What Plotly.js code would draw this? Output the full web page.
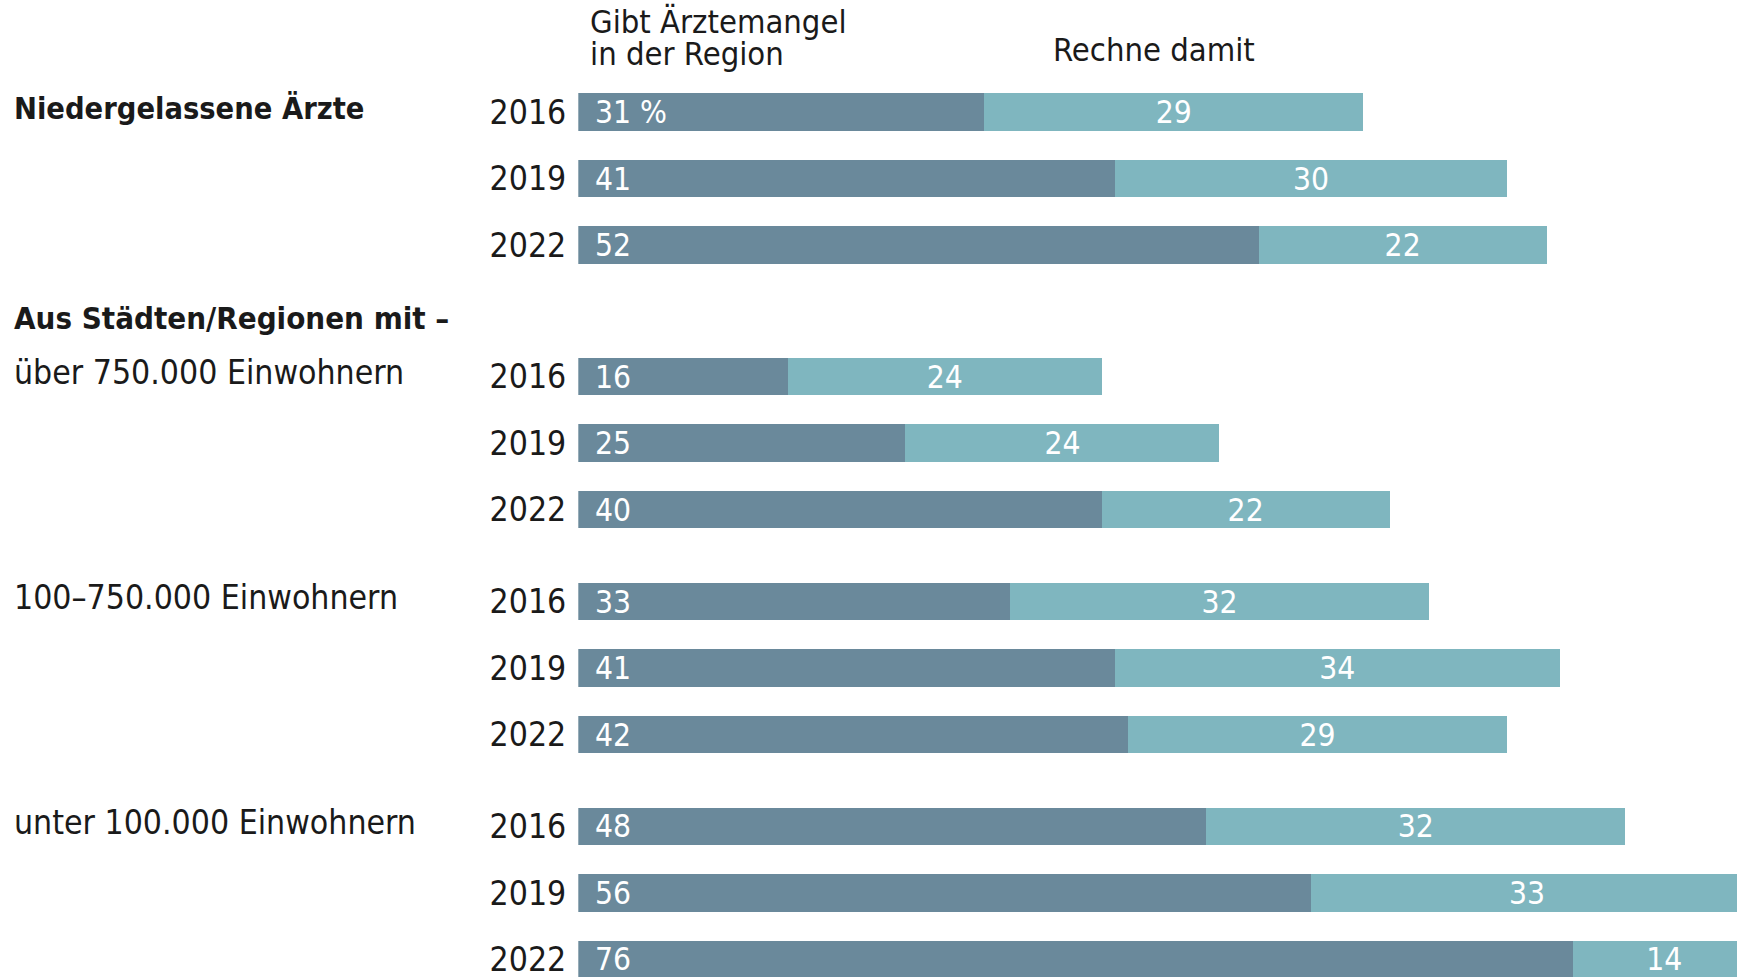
<!DOCTYPE html>
<html>
<head>
<meta charset="utf-8">
<script src="https://cdn.plot.ly/plotly-3.0.1.min.js"></script>
<style>
html,body{margin:0;padding:0;background:#fff;overflow:hidden;}
#chart{width:1737px;height:977px;}
</style>
</head>
<body>
<div id="chart"></div>
<script>
// ---- data ----
const years = ['2016', '2019', '2022'];
const groupLabels = ['Niedergelassene Ärzte', 'über 750.000 Einwohnern', '100–750.000 Einwohnern', 'unter 100.000 Einwohnern'];
const sectionLabel = 'Aus Städten/Regionen mit –';
const seriesNames = ['Gibt Ärztemangel in der Region', 'Rechne damit'];
const headerLines = ['Gibt Ärztemangel', 'in der Region'];
const mangelNiedergelassene = [31, 41, 52];
const mangelUeber750 = [16, 25, 40];
const mangel100bis750 = [33, 41, 42];
const mangelUnter100 = [48, 56, 76];
const rechneNiedergelassene = [29, 30, 22];
const rechneUeber750 = [24, 24, 22];
const rechne100bis750 = [32, 34, 29];
const rechneUnter100 = [32, 33, 14];

const mangelGroups = [mangelNiedergelassene, mangelUeber750, mangel100bis750, mangelUnter100];
const rechneGroups = [rechneNiedergelassene, rechneUeber750, rechne100bis750, rechneUnter100];

// ---- style / layout constants ----
const W = 1737, H = 977;
const FONT = '"DejaVu Sans Condensed", "DejaVu Sans", sans-serif';
const BAR_SIZE = 31.5;
const YEAR_SIZE = 33.5;
const LABEL_SIZE = 33.5;
const BOLD_SIZE = 30.5;
const HEAD_SIZE = 32.5;
const DARK = '#6a899b';
const LIGHT = '#7fb6bf';
const TEXT = '#1a1a1a';
const ROW = 66.5;                 // px per row
const firstRowCenters = [112, 376.7, 601.5, 826.4]; // px from top, first row of each group
const plotLeft = 578.3;           // px where bars start
const pxPerUnit = 13.085;

const axisNames = ['y', 'y2', 'y3', 'y4'];
const layoutAxisNames = ['yaxis', 'yaxis2', 'yaxis3', 'yaxis4'];

const traces = [];
const annotations = [];
const layout = {
  width: W, height: H,
  margin: {l: 0, r: 0, t: 0, b: 0, pad: 0},
  paper_bgcolor: '#fff', plot_bgcolor: 'rgba(0,0,0,0)',
  barmode: 'stack',
  bargap: 0.435,
  showlegend: false,
  font: {family: FONT, size: BAR_SIZE, color: TEXT},
  xaxis: {
    domain: [plotLeft / W, 1],
    range: [0, (W - plotLeft) / pxPerUnit],
    visible: false, fixedrange: true
  },
  annotations: annotations
};

mangelGroups.forEach((m, g) => {
  const r = rechneGroups[g];
  const ya = axisNames[g];
  const topPx = firstRowCenters[g] - ROW / 2;
  let botPx = topPx + 3 * ROW;
  let rangeBottom = 2.5;
  if (botPx > H) { rangeBottom = 2.5 - (botPx - H) / ROW; botPx = H; }
  layout[layoutAxisNames[g]] = {
    type: 'category',
    categoryorder: 'array', categoryarray: years,
    domain: [1 - botPx / H, 1 - topPx / H],
    range: [rangeBottom, -0.5],
    anchor: 'x',
    showgrid: false, zeroline: false, showline: false,
    ticks: '', ticklabelstandoff: 11,
    tickfont: {family: FONT, size: YEAR_SIZE, color: TEXT},
    automargin: false, fixedrange: true
  };
  traces.push({
    type: 'bar', orientation: 'h', name: seriesNames[0],
    x: m, y: years, xaxis: 'x', yaxis: ya,
    marker: {color: DARK, line: {width: 0}},
    hoverinfo: 'skip'
  });
  traces.push({
    type: 'bar', orientation: 'h', name: seriesNames[1],
    x: r, y: years, xaxis: 'x', yaxis: ya,
    marker: {color: LIGHT, line: {width: 0}},
    text: r.map(String), textposition: 'inside', insidetextanchor: 'middle',
    textangle: 0, constraintext: 'none', cliponaxis: true,
    textfont: {family: FONT, size: BAR_SIZE, color: '#ffffff'},
    hoverinfo: 'skip'
  });
  // value labels at left end of dark bars (category index positions)
  m.forEach((v, i) => {
    annotations.push({
      xref: 'x', yref: ya, x: 0, y: i,
      xanchor: 'left', yanchor: 'middle', xshift: 15, yshift: 0,
      text: (g === 0 && i === 0) ? v + ' %' : String(v),
      showarrow: false,
      font: {family: FONT, size: BAR_SIZE, color: '#ffffff'}
    });
  });
  // group label
  annotations.push({
    xref: 'paper', yref: ya, x: 12 / W, y: 0,
    xanchor: 'left', yanchor: 'middle', yshift: 4,
    text: g === 0 ? '<b>' + groupLabels[g] + '</b>' : groupLabels[g],
    showarrow: false,
    font: {family: FONT, size: g === 0 ? BOLD_SIZE : LABEL_SIZE, color: TEXT}
  });
});

// section header
annotations.push({
  xref: 'paper', yref: 'paper', x: 12 / W, y: 1 - 318 / H,
  xanchor: 'left', yanchor: 'middle',
  text: '<b>' + sectionLabel + '</b>', showarrow: false,
  font: {family: FONT, size: 31, color: TEXT}
});
// column headers
annotations.push({
  xref: 'paper', yref: 'paper', x: 588 / W, y: 1 - 22 / H,
  xanchor: 'left', yanchor: 'middle',
  text: headerLines[0], showarrow: false,
  font: {family: FONT, size: HEAD_SIZE, color: TEXT}
});
annotations.push({
  xref: 'paper', yref: 'paper', x: 588 / W, y: 1 - 54 / H,
  xanchor: 'left', yanchor: 'middle',
  text: headerLines[1], showarrow: false,
  font: {family: FONT, size: HEAD_SIZE, color: TEXT}
});
annotations.push({
  xref: 'paper', yref: 'paper', x: 1154 / W, y: 1 - 50 / H,
  xanchor: 'center', yanchor: 'middle',
  text: seriesNames[1], showarrow: false,
  font: {family: FONT, size: HEAD_SIZE, color: TEXT}
});

Plotly.newPlot('chart', traces, layout, {displayModeBar: false, staticPlot: true});
</script>
</body>
</html>
